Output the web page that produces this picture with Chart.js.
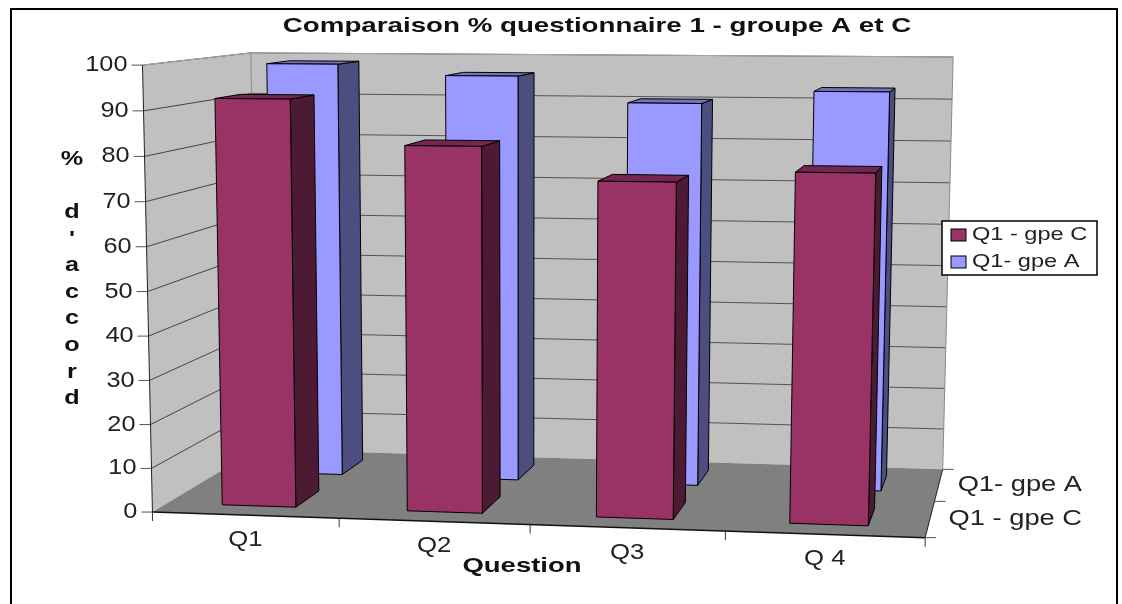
<!DOCTYPE html>
<html>
<head>
<meta charset="utf-8">
<title>Comparaison % questionnaire 1</title>
<script src="https://cdn.jsdelivr.net/npm/chart.js@4/dist/chart.umd.js"></script>
<style>
  html, body { margin: 0; padding: 0; background: #fff; overflow: hidden; }
  canvas { display: block; }
</style>
</head>
<body>
<canvas id="chart" width="1122" height="604"></canvas>
<script>
const categories = ['Q1', 'Q2', 'Q3', 'Q 4'];
const seriesLabels = ['Q1 - gpe C', 'Q1- gpe A'];
const groupeC = [92.3, 82.3, 75, 77.5];
const groupeA = [98.5, 96, 90, 93];
const valueTicksStep = 10;
const chartTitle = 'Comparaison % questionnaire 1 - groupe A et C';
const categoryTitle = 'Question';
const verticalTitle = ['%', '', 'd', "'", 'a', 'c', 'c', 'o', 'r', 'd'];

const FONT = '"Liberation Sans", Arial, sans-serif';

// corners of the 3d box: [u, v, w], [x, y], weight in the fit
const boxCorners = [
    [[0, 0, 0], [153, 512], 3],
    [[1, 0, 0], [925, 538], 2],
    [[0, 1, 0], [252, 450], 1],
    [[1, 1, 0], [943, 469], 2],
    [[0, 0, 1], [142, 65], 3],
    [[0, 1, 1], [252, 53], 2],
    [[1, 1, 1], [953, 57], 2]
];

// depth slots of the two rows of columns
const depthBands = [[0.13, 0.37], [0.63, 0.87]];

// small least squares fit for the camera matrix
function fitProjection(corners) {
    const rows = [], rhs = [];
    corners.forEach(([[u, v, w], [x, y], k]) => {
        rows.push([u, v, w, 1, 0, 0, 0, 0, -x * u, -x * v, -x * w].map(a => a * k));
        rhs.push(x * k);
        rows.push([0, 0, 0, 0, u, v, w, 1, -y * u, -y * v, -y * w].map(a => a * k));
        rhs.push(y * k);
    });
    const n = 11;
    const m = [];
    for (let i = 0; i < n; i++) {
        m.push(new Array(n + 1).fill(0));
        for (let j = 0; j < n; j++) {
            rows.forEach(r => { m[i][j] += r[i] * r[j]; });
        }
        rows.forEach((r, k) => { m[i][n] += r[i] * rhs[k]; });
    }
    for (let i = 0; i < n; i++) {
        let best = i;
        for (let k = i + 1; k < n; k++) {
            if (Math.abs(m[k][i]) > Math.abs(m[best][i])) best = k;
        }
        [m[i], m[best]] = [m[best], m[i]];
        for (let k = 0; k < n; k++) {
            if (k === i) continue;
            const f = m[k][i] / m[i][i];
            for (let j = i; j <= n; j++) m[k][j] -= f * m[i][j];
        }
    }
    return m.map((r, i) => r[n] / r[i]);
}

const cam = fitProjection(boxCorners);

function project(u, v, w) {
    const d = cam[8] * u + cam[9] * v + cam[10] * w + 1;
    return [
        (cam[0] * u + cam[1] * v + cam[2] * w + cam[3]) / d,
        (cam[4] * u + cam[5] * v + cam[6] * w + cam[7]) / d
    ];
}

function face(ctx, pts, fill, stroke) {
    ctx.beginPath();
    pts.forEach((p, i) => i ? ctx.lineTo(p[0], p[1]) : ctx.moveTo(p[0], p[1]));
    ctx.closePath();
    if (fill) {
        ctx.fillStyle = fill;
        ctx.fill();
    }
    if (stroke) {
        ctx.strokeStyle = stroke;
        ctx.lineWidth = 1;
        ctx.stroke();
    }
}

function line(ctx, a, b, color, width) {
    ctx.beginPath();
    ctx.moveTo(a[0], a[1]);
    ctx.lineTo(b[0], b[1]);
    ctx.strokeStyle = color;
    ctx.lineWidth = width || 1;
    ctx.stroke();
}

// text widened on x, the whole chart is a bit wider than tall
function wideText(ctx, text, x, y, font, stretch, align, color) {
    ctx.save();
    ctx.translate(x, y);
    ctx.scale(stretch, 1);
    ctx.font = font;
    ctx.textAlign = align;
    ctx.textBaseline = 'middle';
    ctx.fillStyle = color;
    ctx.fillText(text, 0, 0);
    ctx.restore();
}

// bar controller that draws each column as a box in the projected space
class Bar3dController extends Chart.BarController {
    draw() {
        const ctx = this.chart.ctx;
        const area = this.chart.chartArea;
        const meta = this._cachedMeta;
        const ds = this.getDataset();
        const band = depthBands[this.index];
        const toU = px => (px - area.left) / area.width;
        const toW = px => (area.bottom - px) / area.height;
        ctx.save();
        meta.data.forEach(bar => {
            const u0 = toU(bar.x - bar.width / 2), u1 = toU(bar.x + bar.width / 2);
            const w0 = toW(bar.base), w1 = toW(bar.y);
            const [v0, v1] = band;
            face(ctx, [project(u1, v0, w0), project(u1, v1, w0), project(u1, v1, w1), project(u1, v0, w1)], ds.sideColor, '#000');
            face(ctx, [project(u0, v0, w1), project(u1, v0, w1), project(u1, v1, w1), project(u0, v1, w1)], ds.topColor, '#000');
            face(ctx, [project(u0, v0, w0), project(u1, v0, w0), project(u1, v0, w1), project(u0, v0, w1)], ds.backgroundColor, '#000');
        });
        ctx.restore();
    }
}
Bar3dController.id = 'bar3d';
Bar3dController.defaults = Chart.BarController.defaults;
Bar3dController.overrides = Chart.BarController.overrides;
Chart.register(Bar3dController);

// walls, floor, axes, frame and legend
const decor = {
    id: 'decor',
    beforeDatasetsDraw(chart) {
        const ctx = chart.ctx;
        const yScale = chart.scales.y;
        const area = chart.chartArea;
        const toW = val => (area.bottom - yScale.getPixelForValue(val)) / area.height;
        const labelFont = '22px ' + FONT;
        const boldFont = 'bold 21px ' + FONT;

        ctx.save();
        ctx.strokeStyle = '#000';
        ctx.lineWidth = 2;
        ctx.beginPath();
        ctx.moveTo(11, 620);
        ctx.lineTo(11, 9);
        ctx.lineTo(1117, 9);
        ctx.lineTo(1117, 620);
        ctx.stroke();

        wideText(ctx, chartTitle, 597, 26, boldFont, 1.32, 'center', '#111');

        face(ctx, [project(0, 0, 0), project(0, 1, 0), project(0, 1, 1), project(0, 0, 1)], '#c0c0c0');
        face(ctx, [project(0, 1, 0), project(1, 1, 0), project(1, 1, 1), project(0, 1, 1)], '#c0c0c0');
        face(ctx, [project(0, 0, 0), project(1, 0, 0), project(1, 1, 0), project(0, 1, 0)], '#808080');

        yScale.ticks.forEach(t => {
            const w = toW(t.value);
            if (t.value > 0) {
                line(ctx, project(0, 0, w), project(0, 1, w), '#444');
                line(ctx, project(0, 1, w), project(1, 1, w), '#555');
            }
            const p = project(0, 0, w);
            line(ctx, [p[0] - 11, p[1]], p, '#555');
            wideText(ctx, String(t.value), p[0] - 15, p[1], labelFont, 1.15, 'right', '#222');
        });

        line(ctx, project(0, 1, 0), project(0, 1, 1), '#8a8a8a');
        line(ctx, project(0, 0, 1), project(0, 1, 1), '#a8a8a8');
        line(ctx, project(0, 1, 1), project(1, 1, 1), '#a8a8a8');
        line(ctx, project(1, 1, 0), project(1, 1, 1), '#8a8a8a');
        line(ctx, project(0, 0, 0), project(0, 0, 1), '#222');
        line(ctx, project(0, 0, 0), project(1, 0, 0), '#111', 1.5);
        line(ctx, project(1, 0, 0), project(1, 1, 0), '#222');

        // category ticks along the front edge, then the labels
        const n = categories.length;
        for (let i = 0; i <= n; i++) {
            const p = project(i / n, 0, 0);
            line(ctx, p, [p[0], p[1] + 9], '#333');
        }
        categories.forEach((c, i) => {
            const p = project((i + 0.5) / n, 0, 0);
            wideText(ctx, c, p[0], p[1] + 25, labelFont, 1.17, 'center', '#222');
        });

        // depth axis on the right
        [0, 0.5, 1].forEach(v => {
            const p = project(1, v, 0);
            line(ctx, p, [p[0] + 11, p[1]], '#555');
        });
        seriesLabels.forEach((label, i) => {
            const p = project(1, 0.25 + i * 0.5, 0);
            wideText(ctx, label, 1082, p[1], labelFont, 1.24, 'right', '#222');
        });

        // axis titles
        wideText(ctx, categoryTitle, 522, 566, boldFont, 1.31, 'center', '#111');
        verticalTitle.forEach((ch, i) => {
            wideText(ctx, ch, 72, 159 + i * 26.6, boldFont, 1.2, 'center', '#111');
        });
        ctx.restore();
    },
    afterDraw(chart) {
        const ctx = chart.ctx;
        ctx.save();
        ctx.fillStyle = '#fff';
        ctx.strokeStyle = '#000';
        ctx.lineWidth = 1.5;
        ctx.fillRect(942, 221, 155, 54);
        ctx.strokeRect(942, 221, 155, 54);
        chart.data.datasets.forEach((ds, i) => {
            const y = 229 + i * 27;
            ctx.fillStyle = ds.backgroundColor;
            ctx.fillRect(951, y, 15, 12);
            ctx.lineWidth = 1;
            ctx.strokeRect(951, y, 15, 12);
            wideText(ctx, ds.label, 972, y + 6, '19px ' + FONT, 1.24, 'left', '#222');
        });
        ctx.restore();
    }
};

new Chart(document.getElementById('chart'), {
    type: 'bar3d',
    data: {
        labels: categories,
        datasets: [
            { label: seriesLabels[0], data: groupeC, backgroundColor: '#993366', sideColor: '#4d1a33', topColor: '#732650', clip: false },
            { label: seriesLabels[1], data: groupeA, backgroundColor: '#9999ff', sideColor: '#4d4d80', topColor: '#7373bf', clip: false }
        ]
    },
    options: {
        responsive: false,
        animation: false,
        datasets: { bar3d: { grouped: false, categoryPercentage: 0.4, barPercentage: 1 } },
        scales: {
            x: { type: 'category', offset: true, display: false },
            y: { type: 'linear', min: 0, max: 100, ticks: { stepSize: valueTicksStep }, display: false }
        },
        plugins: {
            legend: { display: false },
            tooltip: { enabled: false }
        }
    },
    plugins: [decor]
});
</script>
</body>
</html>
